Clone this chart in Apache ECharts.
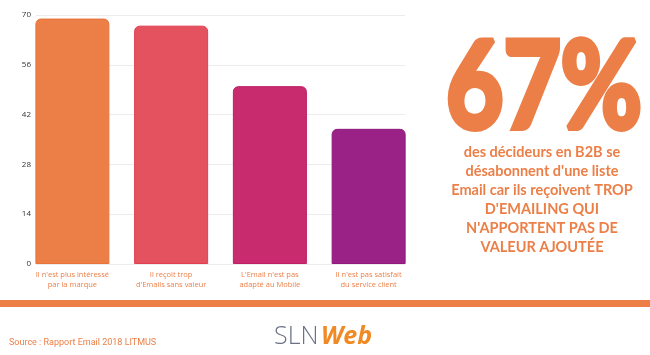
<!DOCTYPE html>
<html><head><meta charset="utf-8">
<script src="https://cdn.jsdelivr.net/npm/echarts@6/dist/echarts.min.js"></script>
<style>html,body{margin:0;padding:0;background:#fff}#c{width:650px;height:355px}</style>
</head><body><div id="c"></div>
<script>
const categories = ["Il n'est plus intéressé\npar la marque", "Il reçoit trop\nd'Emails sans valeur", "L'Email n'est pas\nadapté au Mobile", "Il n'est pas satisfait\ndu service client"];
const values = [69, 67, 50, 38];
const barColors = ["#EC7F47", "#E5525F", "#C92B6F", "#9A2286"];
const borderColors = ["#E8743A", "#E03F50", "#BF1F64", "#8E1A7C"];
const yTicks = [0, 14, 28, 42, 56, 70];
const bigStat = "67%";
const statLines = ["des décideurs en B2B se", "désabonnent d'une liste", "Email car ils reçoivent TROP", "D'EMAILING QUI", "N'APPORTENT PAS DE", "VALEUR AJOUTÉE"];
const sourceText = "Source : Rapport Email 2018 LITMUS";

const orange = "#EC7F47";
const chart = echarts.init(document.getElementById('c'));
const graphics = [
  {type:'rect', shape:{x:0,y:300,width:650,height:7}, style:{fill:orange}},
  {type:'text', x:9, y:343, style:{text:sourceText, fill:orange, font:'9px Roboto', textVerticalAlign:'middle'}},
  {type:'text', x:274, y:337, style:{text:'SLN', fill:'#6B7186', font:'300 25px "Open Sans"', textVerticalAlign:'middle'}},
  {type:'text', x:321, y:337, style:{text:'Web', fill:'#F08A24', font:'italic bold 25px "Open Sans"', textVerticalAlign:'middle'}},
  {type:'text', x:544, y:89, scaleX:0.825, originX:0, originY:0, style:{text:bigStat, fill:orange, stroke:orange, lineWidth:6, font:'bold 120px Lato', textAlign:'center', textVerticalAlign:'middle'}}
];
statLines.forEach((t,i)=>graphics.push({type:'text', x:542, y:152+i*19, style:{text:t, fill:orange, font:'bold 14.5px Lato', textAlign:'center', textVerticalAlign:'middle'}}));

chart.setOption({
  animation:false,
  grid:[{left:23, right:232, top:15, bottom:91}, {left:36, right:245, top:15, bottom:91}],
  xAxis:[
    {type:'category', gridIndex:0, data:categories, axisLine:{show:false}, axisTick:{show:false},
      axisLabel:{color:orange, fontSize:7.5, lineHeight:10, margin:6, interval:0, fontFamily:'Open Sans'}},
    {type:'value', gridIndex:1, show:false, min:0, max:1}
  ],
  yAxis:[
    {type:'value', gridIndex:0, min:0, max:70, interval:14, show:false, splitLine:{show:false}},
    {type:'value', gridIndex:1, min:0, max:70, interval:14, axisLine:{show:false}, axisTick:{show:false},
      splitLine:{lineStyle:{color:'#ececec'}},
      axisLabel:{color:'#333', fontSize:8, margin:5, fontFamily:'Open Sans', formatter:v=>yTicks.includes(v)?String(v):''}}
  ],
  series:[{type:'bar', xAxisIndex:0, yAxisIndex:0, barWidth:74, z:3,
    data: values.map((v,i)=>({value:v, itemStyle:{color:barColors[i], borderColor:borderColors[i], borderWidth:1, borderRadius:[5,5,0,0]}}))}],
  graphic:graphics
});
</script></body></html>
